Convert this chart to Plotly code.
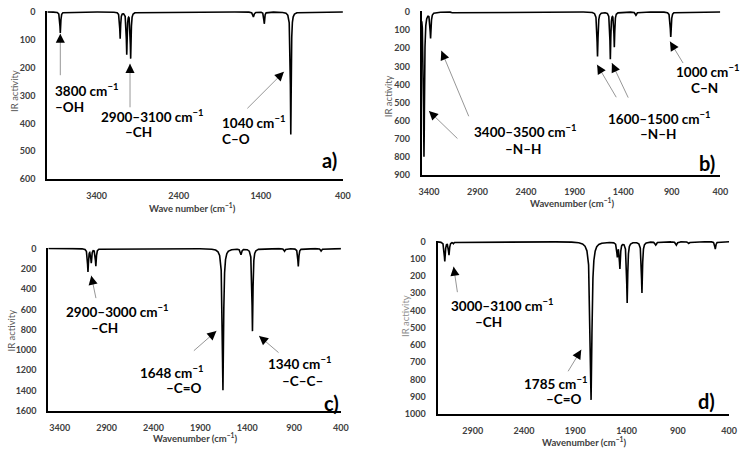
import numpy as np
import plotly.graph_objects as go

W, H = 747, 453
FONT = "Lato"

# ---------------- data (peak tables) ----------------
# panel a
a_wn = [3842, 3113, 3033, 2985, 1490, 1358, 1035]
a_int = [75, 95, 150, 165, 18, 42, 440]
a_hw = [6, 6, 6, 6, 9, 6, 6]
a_xticks = [3400, 2400, 1400, 400]
a_yticks = [0, 100, 200, 300, 400, 500, 600]

# panel b
b_wn = [3451, 3383, 3163, 1664, 1532, 1491, 1268, 910]
b_int = [798, 140, 4, 245, 258, 190, 18, 138]
b_hw = [6, 6, 6, 6, 5, 5, 8, 6]
b_xticks = [3400, 2900, 2400, 1900, 1400, 900, 400]
b_yticks = [0, 100, 200, 300, 400, 500, 600, 700, 800, 900]

# panel c
c_wn = [3099, 3064, 3015, 1659, 1466, 1344, 1001, 855, 610, 435]
c_int = [225, 135, 170, 1397, 58, 813, 26, 177, 26, 5]
c_hw = [6, 6, 6, 8, 8, 6, 8, 6, 8, 8]
c_xticks = [3400, 2900, 2400, 1900, 1400, 900, 400]
c_yticks = [0, 200, 400, 600, 800, 1000, 1200, 1400, 1600]

# panel d
d_wn = [3172, 3131, 3086, 1746, 1490, 1465, 1394, 1250, 1115, 914, 792, 535]
d_int = [113, 75, 10, 919, 80, 150, 353, 296, 19, 19, 10, 43]
d_hw = [6, 6, 6, 10, 6, 6, 6, 6, 8, 8, 8, 6]
d_xticks = [2900, 2400, 1900, 1400, 900, 400]
d_yticks = [0, 100, 200, 300, 400, 500, 600, 700, 800, 900, 1000]


def spectrum(lo, hi, wn, inten, hw):
    grid = np.arange(lo, hi + 0.25, 0.5)
    y = np.zeros_like(grid, dtype=float)
    for c, h, g in zip(wn, inten, hw):
        y += h * g * g / ((grid - c) ** 2 + g * g)
    return grid, y


# panel geometry in pixels: (left, right, top, bottom)
panels = [
    dict(wn=a_wn, inten=a_int, hw=a_hw, xr=[4000, 400], yr=[600, -4],
         px=(45, 345, 6, 178), xt=a_xticks, yt=a_yticks),
    dict(wn=b_wn, inten=b_int, hw=b_hw, xr=[3474, 400], yr=[900, -6],
         px=(425, 728, 6, 174), xt=b_xticks, yt=b_yticks),
    dict(wn=c_wn, inten=c_int, hw=c_hw, xr=[3522, 400], yr=[1600, -10],
         px=(46, 343, 248, 415), xt=c_xticks, yt=c_yticks),
    dict(wn=d_wn, inten=d_int, hw=d_hw, xr=[3243, 400], yr=[1000, -6],
         px=(441, 737, 241, 418), xt=d_xticks, yt=d_yticks),
]

fig = go.Figure()
layout = dict(width=W, height=H, autosize=False,
              margin=dict(l=0, r=0, t=0, b=0),
              paper_bgcolor="white", plot_bgcolor="white",
              showlegend=False)

tickfont = dict(family=FONT, size=9, color="#404040", weight="bold")

for i, p in enumerate(panels):
    n = "" if i == 0 else str(i + 1)
    gx, gy = spectrum(400, p["xr"][0], p["wn"], p["inten"], p["hw"])
    fig.add_trace(go.Scatter(x=gx, y=gy, mode="lines",
                             line=dict(color="black", width=1.6),
                             xaxis="x" + n, yaxis="y" + n, hoverinfo="skip"))
    l, r, t, b = p["px"]
    layout["xaxis" + n] = dict(domain=[l / W, r / W], range=p["xr"],
                               anchor="y" + n, showline=True, linecolor="black",
                               linewidth=2, showgrid=False, zeroline=False,
                               ticks="", tickmode="array", tickvals=p["xt"],
                               tickfont=tickfont, ticklabelstandoff=7)
    layout["yaxis" + n] = dict(domain=[1 - b / H, 1 - t / H], range=p["yr"],
                               anchor="x" + n, showline=True, linecolor="black",
                               linewidth=2, showgrid=False, zeroline=False,
                               ticks="", tickmode="array", tickvals=p["yt"],
                               tickfont=tickfont, ticklabelstandoff=8)

fig.update_layout(**layout)

ann = []


def txt(s, x, y, size=13.5, bold=True, color="black", xanchor="left", angle=0):
    ann.append(dict(text=("<b>%s</b>" % s) if bold else s, x=x / W, y=1 - y / H,
                    xref="paper", yref="paper", xanchor=xanchor, yanchor="middle",
                    showarrow=False, textangle=angle,
                    font=dict(family=FONT, size=size, color=color)))


def arrow(n, x, y, dx, dy):
    xr, yr = "x" + n, "y" + n
    ann.append(dict(text="", x=x, y=y, xref=xr, yref=yr, ax=dx, ay=dy,
                    showarrow=True, arrowhead=0, arrowwidth=0.9,
                    arrowcolor="#8a8a8a", standoff=0))
    L = (dx * dx + dy * dy) ** 0.5
    ann.append(dict(text="", x=x, y=y, xref=xr, yref=yr,
                    ax=dx / L * 7, ay=dy / L * 7,
                    showarrow=True, arrowhead=2, arrowsize=1.4, arrowwidth=1.3,
                    arrowcolor="black", standoff=0))


CM = "cm<sup>−1</sup>"

# panel a
txt("3800 " + CM, 51, 87)
txt("–OH", 51, 104)
txt("2900–3100 " + CM, 97, 113)
txt("–CH", 122, 130)
txt("1040 " + CM, 220, 120)
txt("C–O", 220, 137)
txt("a)", 322, 158, size=20)
arrow("", 3842, 78, 0, 43)
arrow("", 2993, 186, 0, 45)
arrow("", 1119, 215, -38, 38)

# panel b
txt("3400–3500 " + CM, 476, 129)
txt("–N–H", 507, 147)
txt("1600–1500 " + CM, 612, 116)
txt("–N–H", 644, 132)
txt("1000 " + CM, 681, 68)
txt("C–N", 696, 85)
txt("b)", 704, 162, size=20)
arrow("2", 3400, 546, 30, 29)
arrow("2", 3272, 214, 28, 67)
arrow("2", 1668, 291, 20, 34)
arrow("2", 1516, 282, 17, 36)
arrow("2", 918, 163, 14, 23)

# panel c
txt("2900–3000 " + CM, 62, 313)
txt("–CH", 87, 330)
txt("1648 " + CM, 137, 375)
txt("–C=O", 163, 392)
txt("1340 " + CM, 267, 366)
txt("–C–C–", 281, 384)
txt("c)", 324, 407, size=20)
arrow("3", 3064, 267, 5, 24)
arrow("3", 1729, 813, -24, 21)
arrow("3", 1274, 861, 21, 18)

# panel d
txt("3000–3100 " + CM, 453, 307)
txt("–CH", 477, 324)
txt("1785 " + CM, 527, 387)
txt("–C=O", 549, 403)
txt("d)", 703, 405, size=20)
arrow("4", 3086, 145, 4, 27)
arrow("4", 1842, 628, -14, 23)

# axis titles
txt("Wave number (" + CM + ")", 192, 207, size=9.5, color="#404040", xanchor="center")
txt("Wavenumber (" + CM + ")", 577, 202, size=9.5, color="#404040", xanchor="center")
txt("Wavenumber (" + CM + ")", 195, 442, size=9.5, color="#404040", xanchor="center")
txt("Wavenumber (" + CM + ")", 590, 446, size=9.5, color="#404040", xanchor="center")
txt("IR activity", 11, 88, size=9.5, bold=False, color="#595959", xanchor="center", angle=-90)
txt("IR activity", 392, 93, size=9.5, bold=False, color="#595959", xanchor="center", angle=-90)
txt("IR activity", 9, 333, size=9.5, bold=False, color="#595959", xanchor="center", angle=-90)
txt("IR activity", 409, 318, size=9.5, bold=False, color="#8c8c8c", xanchor="center", angle=-90)

fig.update_layout(annotations=ann)
fig.write_html("out.html", config={"displayModeBar": False},
               post_script="document.body.style.margin='0px';")
